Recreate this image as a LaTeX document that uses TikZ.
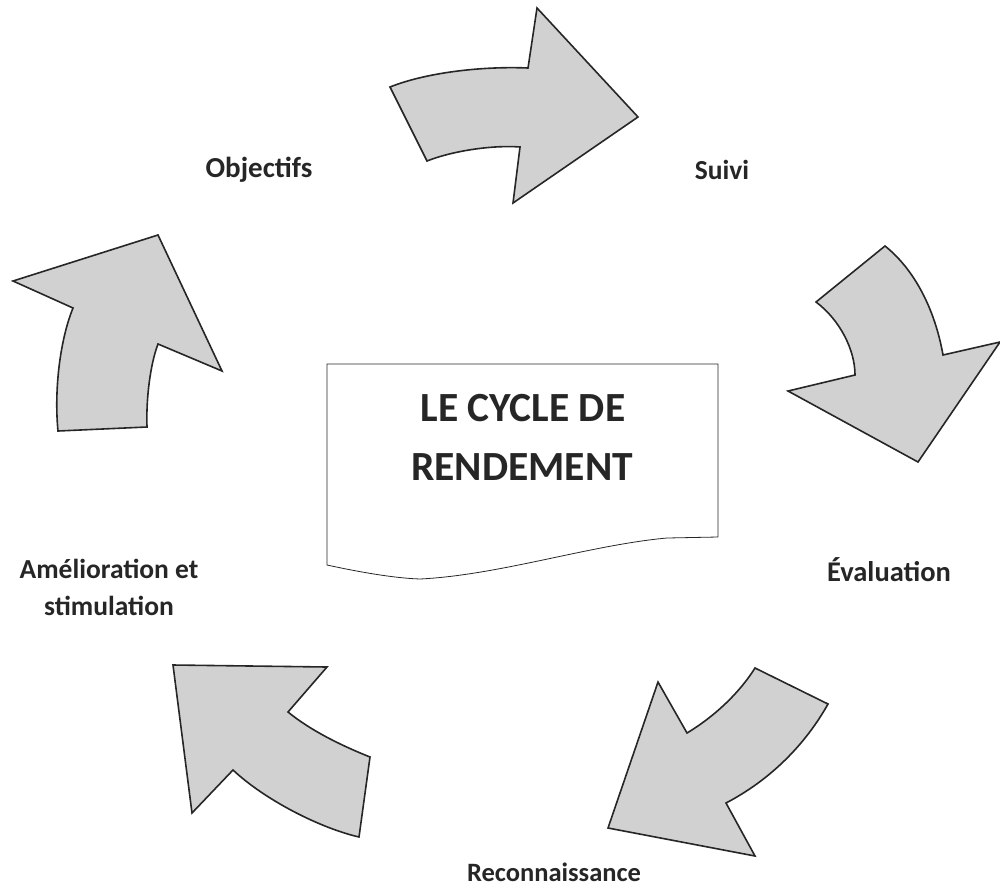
\documentclass[tikz,border=0pt]{standalone}
\usepackage{fontspec}
\setmainfont{Carlito}
\begin{document}
\begin{tikzpicture}[x=1pt,y=-1pt,
  arrowshape/.style={draw=black!85, fill=black!18, line width=1.6pt, line join=miter},
  lbl/.style={font=\bfseries, text=black!85, align=center, inner sep=0pt},
  title/.style={font=\bfseries\fontsize{41.5}{58}\selectfont, text=black!85, align=center, inner sep=0pt},
  docbox/.style={draw=black!85, line width=0.8pt}]
\useasboundingbox (0,0) rectangle (1000,886);
% arrow 1 (top)
\draw[arrowshape] (390,87) .. controls (425,73) and (480,66) .. (528,68) -- (537,8) -- (638,117) -- (513,203) -- (520,147)
  .. controls (495,145) and (455,150) .. (427,161) -- cycle;
% arrow 2 (right)
\draw[arrowshape] (885,246) .. controls (915,270) and (935,310) .. (943,355) -- (1000,342) -- (918,462) -- (788,391) -- (855,375)
  .. controls (855,350) and (840,320) .. (816,302) -- cycle;
% arrow 3 (bottom right)
\draw[arrowshape] (755,668) -- (828,704) .. controls (805,745) and (770,780) .. (726,803) -- (755,856) -- (608,828) -- (658,682) -- (687,733)
  .. controls (712,718) and (738,695) .. (755,668) -- cycle;
% arrow 4 (bottom left)
\draw[arrowshape] (173,665) -- (327,667) -- (288,712) .. controls (310,730) and (340,745) .. (370,757) -- (359,837)
  .. controls (320,828) and (265,800) .. (233,770) -- (192,813) -- cycle;
% arrow 5 (left)
\draw[arrowshape] (158,235) -- (222,371) -- (158,344) .. controls (150,365) and (146,400) .. (147,427) -- (58,431)
  .. controls (54,390) and (60,340) .. (73,308) -- (13,281) -- cycle;
% central document box
\draw[docbox] (327,364) -- (718,364) -- (718,537) -- (667,538) .. controls (590,545) and (500,575) .. (420,579)
  .. controls (390,578) and (350,570) .. (327,565) -- cycle;
\node[title] (t1) at (523,408) {LE CYCLE DE};
\node[title] (t2) at (522,467) {RENDEMENT};
\node[lbl, font=\bfseries\fontsize{29}{36}\selectfont] (obj) at (259,170) {Objectifs};
\node[lbl, font=\bfseries\fontsize{27.5}{36}\selectfont] (sui) at (722,170) {Suivi};
\node[lbl, font=\bfseries\fontsize{28.5}{36}\selectfont] (eva) at (889,570) {Évaluation};
\node[lbl, font=\bfseries\fontsize{27.5}{37}\selectfont] (ame) at (109,587) {Amélioration et\\stimulation};
\node[lbl, font=\bfseries\fontsize{26.5}{36}\selectfont] (rec) at (554,872) {Reconnaissance};
\end{tikzpicture}
\end{document}
